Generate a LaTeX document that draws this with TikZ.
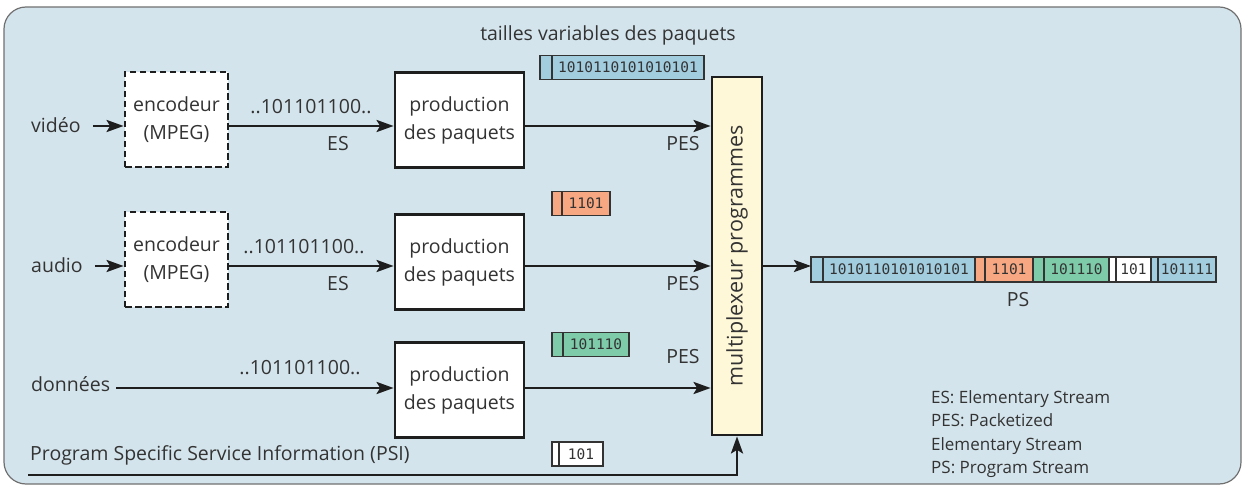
\documentclass[tikz,border=0pt]{standalone}
\usepackage{fontspec}
\setmainfont{Open Sans}
\newfontfamily\bitfont{DejaVu Sans Mono}
\usetikzlibrary{arrows.meta}
\definecolor{panel}{HTML}{D4E4EC}
\definecolor{framegray}{HTML}{707070}
\definecolor{ink}{HTML}{333333}
\definecolor{wire}{HTML}{1E1E1E}
\definecolor{pblue}{HTML}{A2CDDF}
\definecolor{porange}{HTML}{F7A882}
\definecolor{pgreen}{HTML}{7ECBA9}
\definecolor{muxfill}{HTML}{FFF8D8}
\tikzset{
  lbl/.style={inner sep=0pt, text=ink},
  arr/.style={draw=wire, line width=2.8pt, -{Stealth[length=17pt,width=12pt,inset=3.5pt]}},
  encbox/.style={draw=wire, line width=2.8pt, dash pattern=on 6.5pt off 3.5pt, fill=white,
    minimum width=103pt, minimum height=95pt, inner sep=0pt, align=center, text=ink},
  prodbox/.style={draw=wire, line width=2.8pt, fill=white,
    minimum width=129pt, minimum height=95pt, inner sep=0pt, align=center, text=ink},
  cell/.style={draw=ink, line width=1.3pt, inner sep=0pt, outer sep=0pt, minimum height=24pt,
    font=\bitfont\fontsize{14.5}{16}\selectfont, text=ink, anchor=west},
}
\begin{document}
\begin{tikzpicture}[x=1pt, y=-1pt, font=\fontsize{19.5}{28}\selectfont]
\useasboundingbox (0,0) rectangle (1243,486);
% background panel
\draw[fill=panel, draw=framegray, line width=1.2pt, rounded corners=22pt] (4,7) rectangle (1241,484);

\node[lbl] (title) at (608,35) {tailles variables des paquets};

% input labels
\node[lbl, anchor=west] (vid) at (31,125) {vidéo};
\node[lbl, anchor=west] (aud) at (31,265) {audio};
\node[lbl, anchor=west] (dat) at (31,384) {données};
\node[lbl, anchor=west] (psi) at (30,455) {Program Specific Service Information (PSI)};

% encoders and packetisers
\node[encbox] (enc1) at (176.5,119.5) {encodeur\\(MPEG)};
\node[encbox] (enc2) at (176.5,259.5) {encodeur\\(MPEG)};
\node[prodbox] (prod1) at (459.5,120) {production\\des paquets};
\node[prodbox] (prod2) at (459.5,262) {production\\des paquets};
\node[prodbox] (prod3) at (459.5,390) {production\\des paquets};

% multiplexer
\node[draw=wire, line width=2.8pt, fill=muxfill, minimum width=50pt, minimum height=358pt,
      inner sep=0pt] (mux) at (737,256) {};
\node[lbl, rotate=90, font=\fontsize{21.5}{26}\selectfont] (muxtxt) at (mux.center) {multiplexeur programmes};

% row levels
\coordinate (r1) at (0,126);
\coordinate (r2) at (0,266);
\coordinate (r3) at (0,388);
\coordinate (psiL) at (28,475);

% video row
\draw[arr] ([xshift=12pt]vid.east |- r1) -- (enc1.west |- r1);
\draw[arr] (enc1.east |- r1) -- (prod1.west |- r1);
\draw[arr] (prod1.east |- r1) -- (mux.west |- r1);
\node[lbl] (es1) at (311,107) {..101101100..};
\node[lbl] (es1b) at (338,144) {ES};
\node[lbl] (pes1) at (683,144) {PES};

% audio row
\draw[arr] ([xshift=12pt]aud.east |- r2) -- (enc2.west |- r2);
\draw[arr] (enc2.east |- r2) -- (prod2.west |- r2);
\draw[arr] (prod2.east |- r2) -- (mux.west |- r2);
\node[lbl] (es2) at (304,247) {..101101100..};
\node[lbl] (es2b) at (338,284) {ES};
\node[lbl] (pes2) at (683,284) {PES};

% data row
\draw[arr] ([xshift=6pt]dat.east |- r3) -- (prod3.west |- r3);
\draw[arr] (prod3.east |- r3) -- (mux.west |- r3);
\node[lbl] (es3) at (300,368) {..101101100..};
\node[lbl] (pes3) at (683,357) {PES};

% PSI feed
\draw[arr] (psiL) -- (psiL -| mux.south) -- (mux.south);

% packets beside the rows
\node[cell, fill=pblue, minimum width=12pt] (p1h) at (540,67.5) {};
\node[cell, fill=pblue, minimum width=152pt] (p1) at (p1h.east) {1010110101010101};
\node[cell, fill=porange, minimum width=10pt] (p2h) at (552,203.5) {};
\node[cell, fill=porange, minimum width=48pt] (p2) at (p2h.east) {1101};
\node[cell, fill=pgreen, minimum width=11pt] (p3h) at (552,344.5) {};
\node[cell, fill=pgreen, minimum width=66pt] (p3) at (p3h.east) {101110};
\node[cell, fill=white, minimum width=7pt] (p4h) at (552,454) {};
\node[cell, fill=white, minimum width=44pt] (p4) at (p4h.east) {101};

% program stream
\node[cell, fill=pblue, minimum width=12pt, minimum height=25pt] (s0) at (811,269.5) {};
\node[cell, fill=pblue, minimum width=152pt, minimum height=25pt] (s1) at (s0.east) {1010110101010101};
\node[cell, fill=porange, minimum width=10pt, minimum height=25pt] (s2) at (s1.east) {};
\node[cell, fill=porange, minimum width=48pt, minimum height=25pt] (s3) at (s2.east) {1101};
\node[cell, fill=pgreen, minimum width=11pt, minimum height=25pt] (s4) at (s3.east) {};
\node[cell, fill=pgreen, minimum width=65pt, minimum height=25pt] (s5) at (s4.east) {101110};
\node[cell, fill=white, minimum width=7pt, minimum height=25pt] (s6) at (s5.east) {};
\node[cell, fill=white, minimum width=35pt, minimum height=25pt] (s7) at (s6.east) {101};
\node[cell, fill=pblue, minimum width=7pt, minimum height=25pt] (s8) at (s7.east) {};
\node[cell, fill=pblue, minimum width=58pt, minimum height=25pt] (s9) at (s8.east) {101111};
\draw[arr] (mux.east |- r2) -- (s0.west |- r2);
\node[lbl] (ps) at (1018,300) {PS};

% legend
\node[lbl, anchor=north west, align=left, font=\fontsize{17}{23.5}\selectfont] (legend) at (931,390)
  {ES: Elementary Stream\\PES: Packetized\\Elementary Stream\\PS: Program Stream};
\end{tikzpicture}
\end{document}
